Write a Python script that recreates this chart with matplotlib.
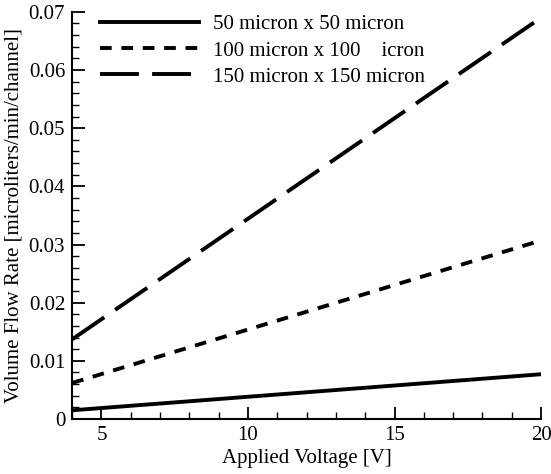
import matplotlib.pyplot as plt
from matplotlib.ticker import MultipleLocator

plt.rcParams['font.family'] = ['Liberation Serif', 'DejaVu Serif']

voltage = [4, 20]
flow_50 = [0.0015, 0.0077]
flow_100 = [0.0062, 0.0307]
flow_150 = [0.0137, 0.0690]
labels = ["50 micron x 50 micron", "100 micron x 100    icron", "150 micron x 150 micron"]

fig = plt.figure(figsize=(5.51, 4.74), dpi=100)
ax = fig.add_axes([0.131, 0.116, 0.851, 0.859])

ax.plot(voltage, flow_50, color="black", lw=2.8, label=labels[0])
ax.plot(voltage, flow_100, color="black", lw=2.8, dashes=(3.0, 2.5), label=labels[1])
ax.plot(voltage, flow_150, color="black", lw=2.8, dashes=(10, 3.4), label=labels[2])

ax.set_xlim(4, 20)
ax.set_ylim(0, 0.07)
ax.xaxis.set_minor_locator(MultipleLocator(1))
ax.yaxis.set_minor_locator(MultipleLocator(0.002))
ax.set_yticks([0, 0.01, 0.02, 0.03, 0.04, 0.05, 0.06, 0.07])
ax.set_yticklabels(["0", "0.01", "0.02", "0.03", "0.04", "0.05", "0.06", "0.07"])
ax.set_xticks([5, 10, 15, 20])

for s in ["top", "right"]:
    ax.spines[s].set_visible(False)
for s in ["left", "bottom"]:
    ax.spines[s].set_linewidth(1.5)
ax.tick_params(which="major", direction="in", length=9, width=1.3, labelsize=15, pad=5)
ax.tick_params(which="minor", direction="in", length=5, width=1.0)

ax.set_xlabel("Applied Voltage [V]", fontsize=15, labelpad=3)
ax.set_ylabel("Volume Flow Rate [microliters/min/channel]", fontsize=15, labelpad=4)

ax.legend(loc="upper left", bbox_to_anchor=(0.06, 0.993), frameon=False, fontsize=15,
          handlelength=4.75, handletextpad=0.65, labelspacing=0.32,
          borderpad=0, borderaxespad=0)

fig.savefig("out.png", dpi=100)
